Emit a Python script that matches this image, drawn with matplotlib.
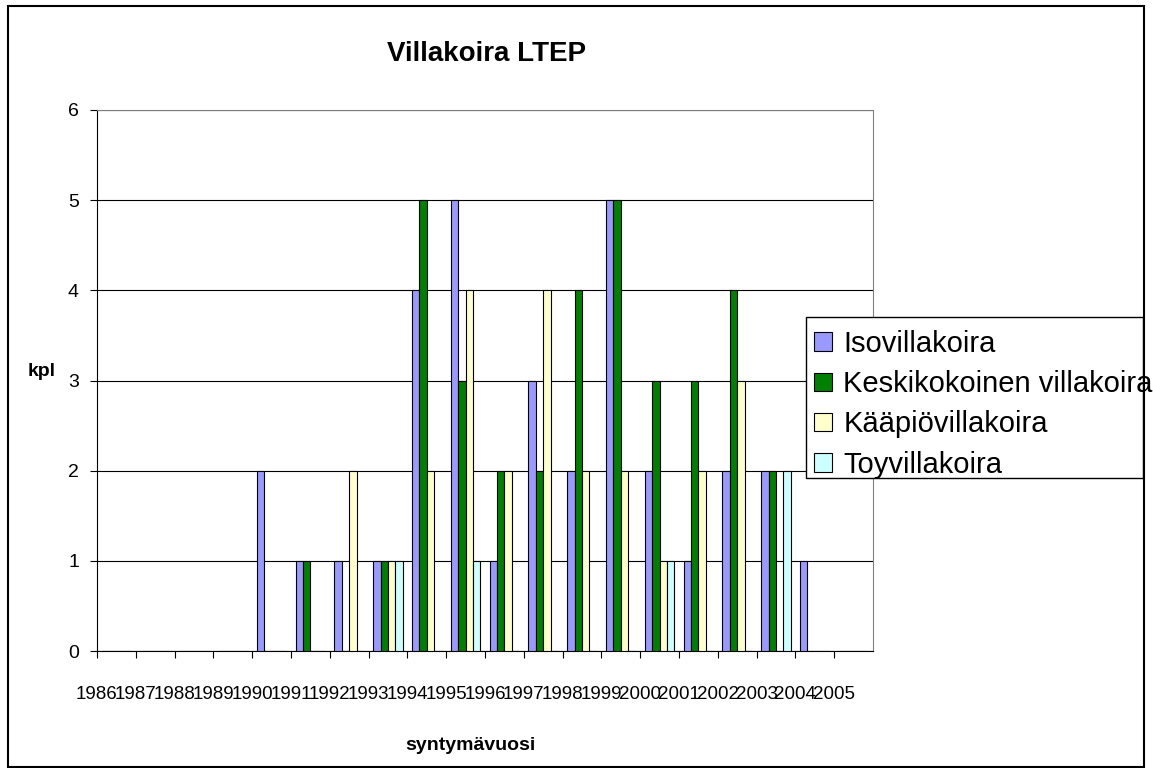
import numpy as np
import matplotlib
matplotlib.use("Agg")
import matplotlib.pyplot as plt
from matplotlib.patches import Rectangle

plt.rcParams['font.family'] = ['Liberation Sans', 'DejaVu Sans']

# syntymävuodet ja koirien määrät rotumuunnoksittain
vuodet = [str(v) for v in range(1986, 2006)]
iso = [0, 0, 0, 0, 2, 1, 1, 1, 4, 5, 1, 3, 2, 5, 2, 1, 2, 2, 1, 0]
keski = [0, 0, 0, 0, 0, 1, 0, 1, 5, 3, 2, 2, 4, 5, 3, 3, 4, 2, 0, 0]
kaapio = [0, 0, 0, 0, 0, 0, 2, 1, 2, 4, 2, 4, 2, 2, 1, 2, 3, 0, 0, 0]
toy = [0, 0, 0, 0, 0, 0, 0, 1, 0, 1, 0, 0, 0, 0, 1, 0, 0, 2, 0, 0]

sarjat = ["Isovillakoira", "Keskikokoinen villakoira", "Kääpiövillakoira", "Toyvillakoira"]
arvot = [iso, keski, kaapio, toy]
varit = ["#9999FF", "#008000", "#FFFFCC", "#CCFFFF"]

W, H = 1153, 768
fig = plt.figure(figsize=(W / 100, H / 100), dpi=100)
ax = fig.add_axes([97 / W, 1 - 651 / H, (873 - 97) / W, (651 - 110) / H])

x = np.arange(len(vuodet))
leveys = 0.19
palkit = []
for j, (nimi, data, vari) in enumerate(zip(sarjat, arvot, varit)):
    b = ax.bar(x + (j - 1.5) * leveys, data, leveys, color=vari,
               edgecolor="black", linewidth=0.8, label=nimi, zorder=3)
    palkit.append(b)

ax.set_xlim(-0.5, len(vuodet) - 0.5)
ax.set_ylim(0, 6)
ax.set_yticks(range(0, 7))
ax.yaxis.grid(True, color="black", linewidth=0.8)
ax.set_axisbelow(True)

# vuosiluvut kategorioiden rajoilla kuten alkuperäisessä
ax.set_xticks(x - 0.5)
ax.set_xticklabels(vuodet)
ax.tick_params(axis="x", length=5, width=0.8, labelsize=13.5, pad=20)
ax.tick_params(axis="y", length=5, width=0.8, labelsize=14, pad=8)

for s in ["top", "right"]:
    ax.spines[s].set_color("#808080")
for s in ["left", "bottom"]:
    ax.spines[s].set_color("black")

fig.text(487 / W, 1 - 54 / H, "Villakoira LTEP", ha="center", va="center",
         fontsize=20, fontweight="bold")
fig.text(42 / W, 1 - 372 / H, "kpl", ha="center", va="center",
         fontsize=14, fontweight="bold")
fig.text(470 / W, 1 - 745 / H, "syntymävuosi", ha="center", va="center",
         fontsize=14, fontweight="bold")

# selitteen kehys
fig.patches.append(Rectangle((806 / W, 1 - 478 / H), (1143 - 806) / W, (478 - 317) / H,
                             transform=fig.transFigure, facecolor="white",
                             edgecolor="black", linewidth=1, zorder=4))
leg = fig.legend(handles=palkit, labels=sarjat, loc="upper left",
                 bbox_to_anchor=(814 / W, 1 - 330 / H), frameon=False,
                 fontsize=21, handlelength=0.6, handleheight=0.6,
                 handletextpad=0.4, labelspacing=0.42, borderaxespad=0,
                 borderpad=0)
leg.set_zorder(5)

# ulkoreunus
fig.patches.append(Rectangle((8 / W, 1 - 767 / H), (1144 - 8) / W, (767 - 6) / H,
                             transform=fig.transFigure, facecolor="none",
                             edgecolor="black", linewidth=1.5, zorder=6))

fig.savefig("out.png", dpi=100)
